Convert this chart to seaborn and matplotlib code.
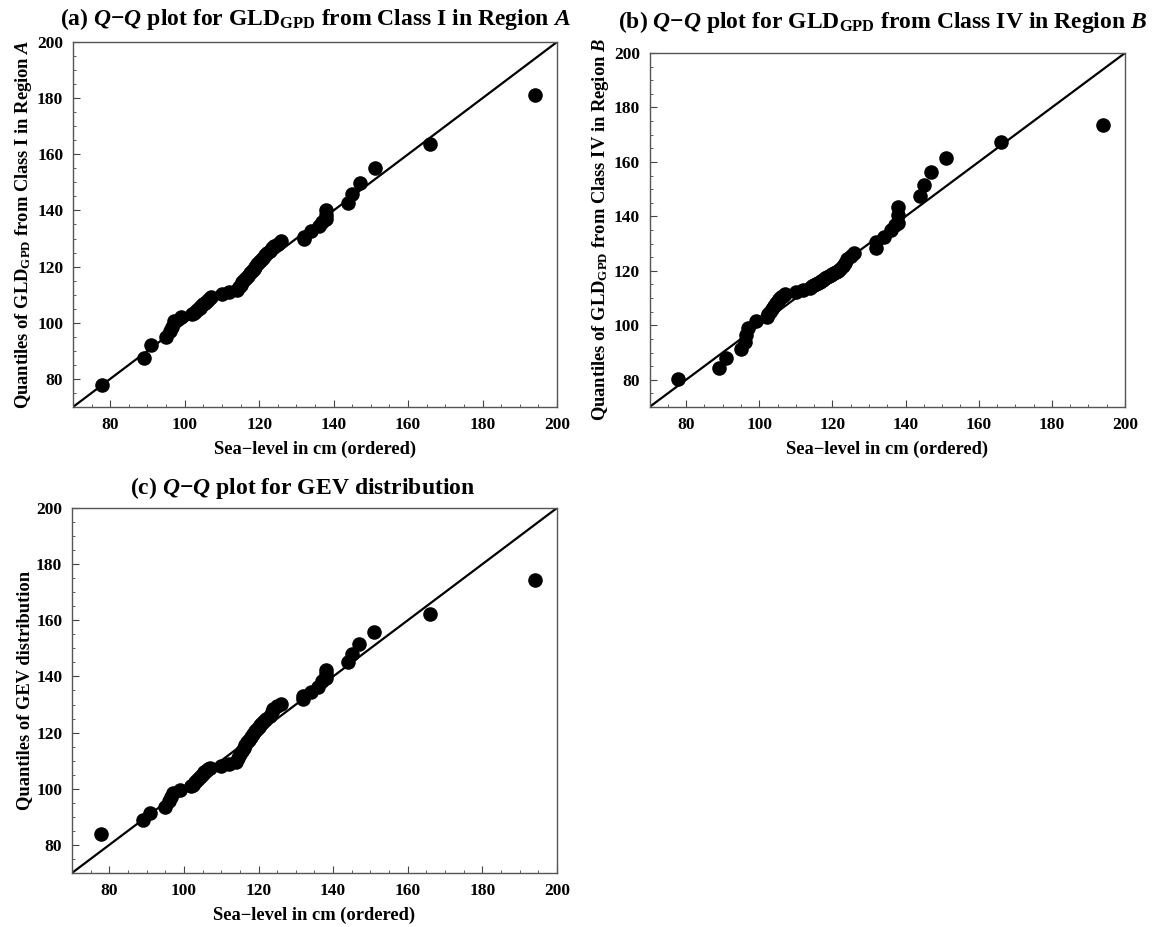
import matplotlib
matplotlib.use("Agg")
import matplotlib.pyplot as plt
import seaborn as sns
import numpy as np
import pandas as pd
from matplotlib.ticker import MultipleLocator, FixedLocator

# Ordered sea-level observations (cm), shared by all panels
sea_level = [77.7, 89, 91, 95, 96, 96.5, 97, 99, 102, 102.5, 103, 103.5, 104, 104.5,
             105, 105.5, 106, 106.5, 107, 110, 112, 114, 114.5, 115, 115.5, 116,
             116.5, 117, 117.5, 118, 118.5, 119, 119.5, 120, 120.5, 121, 121.5, 122,
             123, 123.5, 124, 125, 126, 132, 132, 134, 136, 137, 138, 138, 138,
             144, 145, 147, 151, 166, 194]

q_gld_class1_A = [77.8, 87.5, 92, 95, 97, 98.5, 100.5, 102, 103, 103.5, 104.2, 104.8,
                  105.4, 106, 106.6, 107.2, 107.8, 108.4, 109.2, 110.2, 111, 111.8,
                  112.8, 113.6, 114.4, 115.2, 116, 116.8, 117.6, 118.4, 119.2, 120,
                  120.8, 121.6, 122.4, 123.2, 124, 124.8, 125.6, 126.6, 127.4, 128.2,
                  129, 130, 130.6, 132.6, 134.5, 135.8, 137, 138.5, 140, 142.5, 146,
                  149.7, 155.2, 163.5, 181]

q_gld_class4_B = [80.3, 84.2, 88, 91.2, 94, 96.5, 99, 101.4, 103, 104, 105, 106, 107,
                  108, 108.8, 109.6, 110.3, 110.9, 111.4, 112.4, 113.1, 113.8, 114.3,
                  114.8, 115.2, 115.6, 116, 116.4, 116.8, 117.2, 117.6, 118, 118.4,
                  118.8, 119.2, 119.6, 120.1, 120.7, 121.6, 123, 124.2, 125.5, 126.6,
                  128.4, 130.6, 132.5, 135, 137, 137.6, 140.5, 143.5, 147.4, 151.5,
                  156.4, 161.5, 167.2, 173.5]

q_gev = [84, 88.8, 91.3, 93.6, 95.5, 97, 98.5, 99.5, 100.8, 101.5, 102.3, 103, 103.8,
         104.5, 105.2, 105.8, 106.4, 107, 107.5, 108.1, 108.8, 109.5, 111, 112.5,
         113.5, 114.5, 115.5, 116.5, 117.5, 118.5, 119.5, 120.5, 121.3, 122, 122.8,
         123.5, 124.3, 125, 126, 127.2, 128.3, 129.3, 130.3, 132, 133, 134.4, 136.2,
         138.2, 139.5, 141, 142.2, 145, 148, 151.4, 156, 162.3, 174.2]

ref_line = [70, 200]
tick_vals = [80, 100, 120, 140, 160, 180, 200]

titles = [
    "(a) $Q$\u2212$Q$ plot for GLD$_{\\mathrm{GPD}}$ from Class I in Region $A$",
    "(b) $Q$\u2212$Q$ plot for GLD$_{\\mathrm{GPD}}$ from Class IV in Region $B$",
    "(c) $Q$\u2212$Q$ plot for GEV distribution",
]
ylabels = [
    "Quantiles of GLD$_{\\mathrm{GPD}}$ from Class I in Region $A$",
    "Quantiles of GLD$_{\\mathrm{GPD}}$ from Class IV in Region $B$",
    "Quantiles of GEV distribution",
]
xlabel = "Sea\u2212level in cm (ordered)"

sns.set_style("ticks")
plt.rcParams['font.family'] = ['Liberation Serif', 'DejaVu Serif']
plt.rcParams['font.weight'] = 'bold'
plt.rcParams['text.color'] = 'black'
plt.rcParams['axes.labelcolor'] = 'black'
plt.rcParams['mathtext.fontset'] = 'custom'
plt.rcParams['mathtext.rm'] = 'Liberation Serif:bold'
plt.rcParams['mathtext.bf'] = 'Liberation Serif:bold'
plt.rcParams['mathtext.it'] = 'Liberation Serif:bold:italic'

fig = plt.figure(figsize=(11.57, 9.27), dpi=100)
positions = [
    [0.0631, 0.561, 0.4183, 0.3937],
    [0.5614, 0.561, 0.4109, 0.3818],
    [0.0622, 0.0583, 0.4192, 0.3937],
]
title_pads = [12, 18, 10]
title_x = [0.5, 0.49, 0.475]
series = [q_gld_class1_A, q_gld_class4_B, q_gev]

for i, (pos, yq) in enumerate(zip(positions, series)):
    ax = fig.add_axes(pos)
    df = pd.DataFrame({"x": sea_level, "y": yq})
    line_df = pd.DataFrame({"x": ref_line, "y": ref_line})
    sns.lineplot(data=line_df, x="x", y="y", ax=ax, color="black", lw=1.6, zorder=2)
    sns.scatterplot(data=df, x="x", y="y", ax=ax, color="black", s=110,
                    edgecolor="black", linewidth=0, zorder=3)
    ax.set_xlim(70, 200)
    ax.set_ylim(70, 200)
    ax.xaxis.set_major_locator(FixedLocator(tick_vals))
    ax.yaxis.set_major_locator(FixedLocator(tick_vals))
    ax.xaxis.set_minor_locator(MultipleLocator(5))
    ax.yaxis.set_minor_locator(MultipleLocator(5))
    ax.tick_params(which="major", direction="in", length=5, width=0.8,
                   labelsize=12.5, pad=7, colors="#444444", labelcolor="black")
    ax.tick_params(which="minor", direction="in", length=2.5, width=0.6,
                   colors="#444444")
    for lab in ax.get_xticklabels() + ax.get_yticklabels():
        lab.set_fontweight("bold")
    for sp in ax.spines.values():
        sp.set_visible(True)
        sp.set_color("#555555")
        sp.set_linewidth(1.0)
    ax.set_xlabel(xlabel, fontsize=13.3, fontweight="bold", labelpad=6, color="black")
    ax.set_ylabel(ylabels[i], fontsize=13.3, fontweight="bold", labelpad=2, color="black")
    ax.set_title(titles[i], fontsize=17, fontweight="bold", pad=title_pads[i],
                 color="black", x=title_x[i])

fig.savefig("out.png", dpi=100, facecolor="white")
